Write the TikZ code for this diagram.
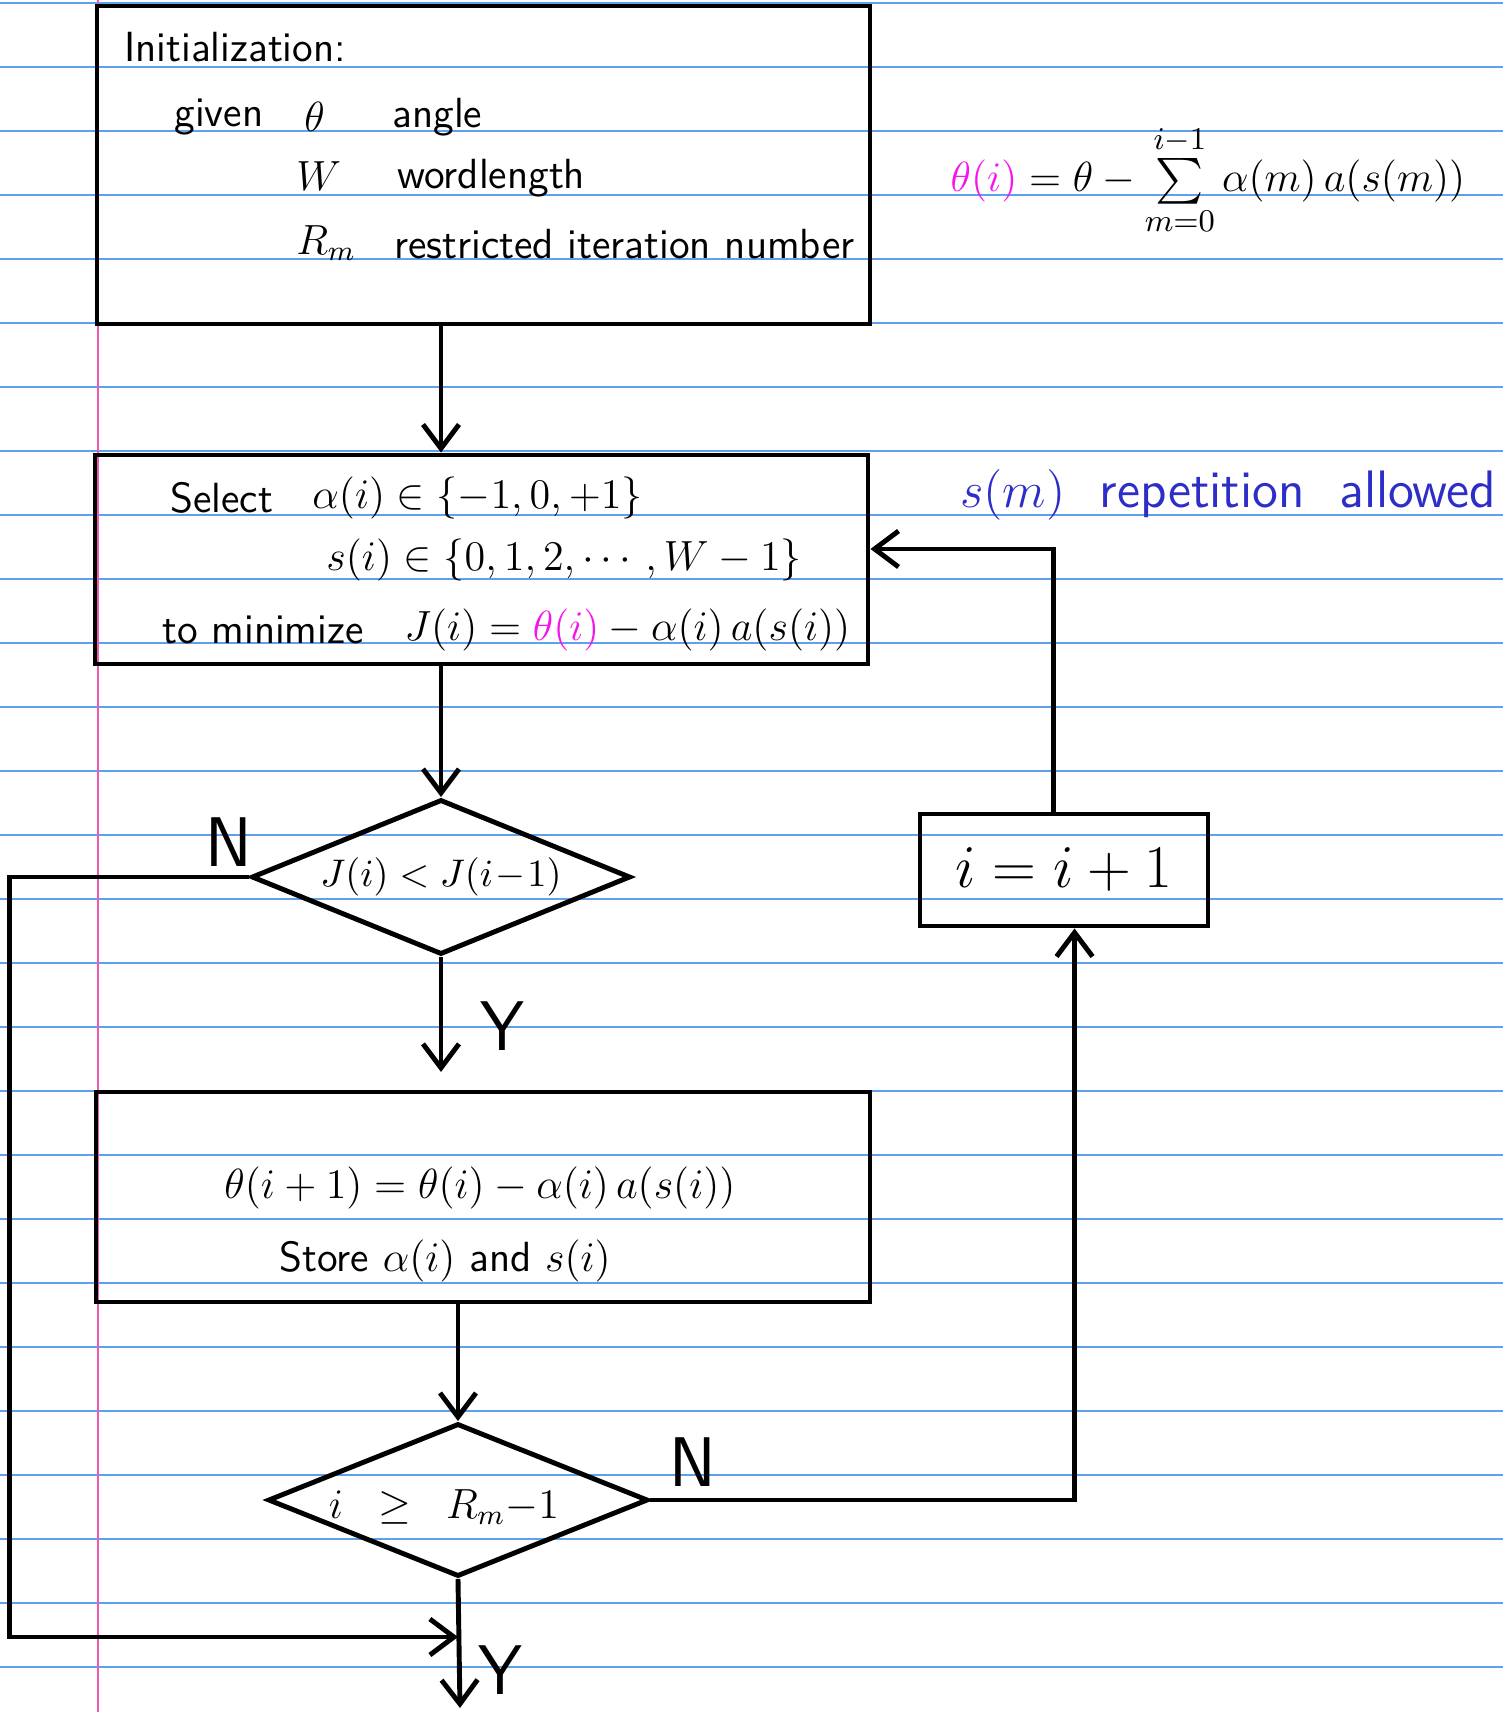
\documentclass[tikz,border=0pt]{standalone}
\usepackage{amsmath}
\usepackage{amssymb}
\usepackage{xcolor}
\definecolor{rulingblue}{RGB}{95,160,235}
\definecolor{marginpink}{RGB}{240,90,170}
\definecolor{penmagenta}{RGB}{245,20,235}
\definecolor{penblue}{RGB}{45,45,200}
\usetikzlibrary{arrows.meta, positioning, shapes.geometric, calc}

\begin{document}
\begin{tikzpicture}[x=0.1mm, y=-0.1mm,
    font=\fontsize{12}{14}\selectfont\sffamily,
    ruling/.style={rulingblue, line width=0.6pt},
    pen/.style={line width=1.4pt},
    box/.style={pen, draw, rectangle, inner sep=0pt},
    decision/.style={pen, draw, diamond, aspect=2.45, inner sep=0pt},
    flow/.style={pen, -{Straight Barb[length=2.4mm, width=3.6mm]}},
    branch/.style={font=\fontsize{20}{22}\selectfont\sffamily}]
  \useasboundingbox (0,0) rectangle (1503,1712);

  % Ruled paper
  \foreach \k in {0,...,26}
    \draw[ruling] (0,{3.3+64*\k}) -- (1503,{3.3+64*\k});
  \draw[marginpink, line width=0.8pt] (98,0) -- (98,1712);

  % Boxes and decisions
  \node[box, minimum width=77.3mm, minimum height=31.8mm] (init) at (483.5,165) {};
  \node[box, minimum width=77.3mm, minimum height=20.9mm] (select) at (481.5,559.5) {};
  \node[decision, minimum width=37.9mm, minimum height=15.5mm, font=\fontsize{11}{13}\selectfont] (dec1) at (441,877) {$J(i) < J(i\!-\!1)$};
  \node[box, minimum width=77.4mm, minimum height=21mm] (update) at (483,1197) {};
  \node[decision, minimum width=38mm, minimum height=15.3mm] (dec2) at (458,1500) {};
  \node[box, minimum width=28.8mm, minimum height=11.2mm, font=\fontsize{17}{20}\selectfont] (incr) at (1064,870) {$i = i + 1$};

  % Initialization text
  \node[anchor=west] (initTitle) at (112,47) {Initialization:};
  \node[anchor=west] (givenLbl) at (162,117) {given};
  \node[anchor=west] (thetaSym) at (292,117) {$\theta$};
  \node[anchor=west] (angleLbl) at (380,117) {angle};
  \node[anchor=west] (wSym) at (284,176) {$W$};
  \node[anchor=west] (wLbl) at (385,178) {wordlength};
  \node[anchor=west] (rSym) at (284,243) {$R_m$};
  \node[anchor=west] (rLbl) at (382,244) {restricted iteration number};

  % Selection text
  \node[anchor=west] (selLbl) at (158,498) {Select};
  \node[anchor=west] (alphaSet) at (300,498) {$\alpha(i) \in \{-1, 0, +1\}$};
  \node[anchor=west] (sSet) at (314,560) {$s(i) \in \{0, 1, 2, \cdots, W-1\}$};
  \node[anchor=west] (minLbl) at (150,630) {to minimize};
  \node[anchor=west] (costEq) at (392,630) {$J(i) = {\color{penmagenta}\theta(i)} - \alpha(i)\,a(s(i))$};

  % Update text
  \node (updEq) at (480,1188) {$\theta(i+1) = \theta(i) - \alpha(i)\,a(s(i))$};
  \node (storeLbl) at (445,1261) {Store $\alpha(i)$ and $s(i)$};
  \node (stopTxt) at (444,1507) {$i \;\;\geq\;\; R_m{-}1$};

  % Side notes
  \node[font=\fontsize{13}{16}\selectfont] (thetaDef) at (1208,180)
    {${\color{penmagenta}\theta(i)} = \theta - \sum\limits_{m=0}^{i-1} \alpha(m)\,a(s(m))$};
  \node[penblue, font=\fontsize{15}{18}\selectfont\sffamily] (repNote) at (1228,495) {$s(m)$ \ repetition \ allowed};

  % Branch labels
  \node[branch] (nNo1) at (229,842) {N};
  \node[branch] (yYes1) at (502,1026) {Y};
  \node[branch] (nNo2) at (693,1462) {N};
  \node[branch] (yYes2) at (500,1670) {Y};
  \coordinate (stop) at (460,1708);
  \coordinate (join) at (458,1637);

  % Connectors
  \draw[flow] (init.south -| dec1) -- (select.north -| dec1);
  \draw[flow] (select.south -| dec1) -- (dec1.north);
  \draw[flow] (dec1.south) -- ([yshift=5pt]update.north -| dec1.south);
  \draw[flow] (update.south -| dec2) -- (dec2.north);
  \draw[flow] (dec2.south) -- (stop);
  \draw[flow] (dec1.west) -- ++(-240,0) |- (join);
  \draw[flow] (dec2.east) -| ([xshift=3pt]incr.south);
  \draw[flow] ([xshift=-3pt]incr.north) |- ([yshift=3pt]select.east);
\end{tikzpicture}
\end{document}
